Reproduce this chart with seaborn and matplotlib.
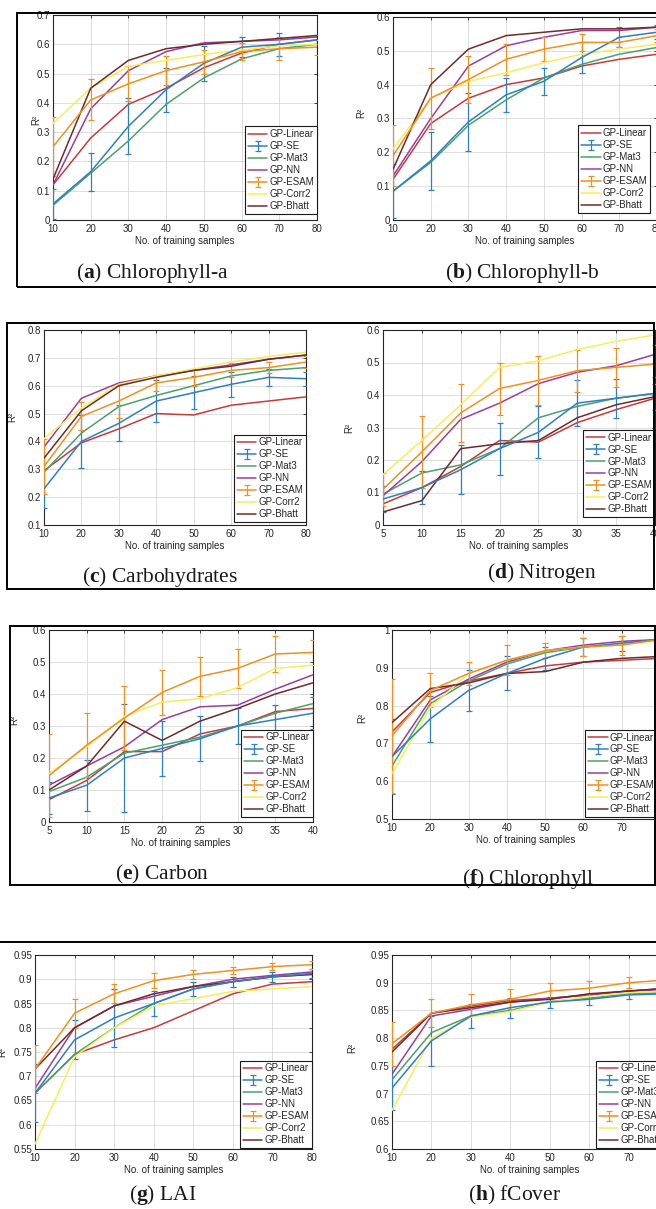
import numpy as np
import pandas as pd
import matplotlib
matplotlib.use("Agg")
import matplotlib.pyplot as plt
from matplotlib.patches import Rectangle
from matplotlib.ticker import FuncFormatter
import seaborn as sns

sns.set_theme(style="white")
plt.rcParams["font.family"] = ["Liberation Sans", "DejaVu Sans"]
plt.rcParams["mathtext.fontset"] = "custom"
plt.rcParams["mathtext.rm"] = "Liberation Serif"
plt.rcParams["mathtext.bf"] = "Liberation Serif:bold"

MODELS = ["GP-Linear", "GP-SE", "GP-Mat3", "GP-NN", "GP-ESAM", "GP-Corr2", "GP-Bhatt"]
COLORS = ["#C83A3A", "#2F7FC1", "#4BA16B", "#9A3E9E", "#F0901E", "#F5EE5A", "#6E2B2B"]

N80 = [10, 20, 30, 40, 50, 60, 70, 80]
N40 = [5, 10, 15, 20, 25, 30, 35, 40]

# (a) Chlorophyll-a
chla_r2 = {
    "GP-Linear": [0.12, 0.28, 0.395, 0.45, 0.52, 0.57, 0.60, 0.615],
    "GP-SE":     [0.055, 0.165, 0.32, 0.445, 0.535, 0.59, 0.60, 0.615],
    "GP-Mat3":   [0.05, 0.16, 0.27, 0.395, 0.485, 0.55, 0.585, 0.60],
    "GP-NN":     [0.12, 0.38, 0.51, 0.575, 0.605, 0.61, 0.615, 0.625],
    "GP-ESAM":   [0.25, 0.41, 0.465, 0.51, 0.54, 0.575, 0.585, 0.59],
    "GP-Corr2":  [0.33, 0.45, 0.525, 0.545, 0.565, 0.58, 0.595, 0.60],
    "GP-Bhatt":  [0.14, 0.45, 0.545, 0.585, 0.60, 0.61, 0.62, 0.63],
}
chla_err = {
    "GP-SE":   [0.05, 0.065, 0.095, 0.075, 0.06, 0.035, 0.04, 0.015],
    "GP-ESAM": [0.10, 0.07, 0.06, 0.05, 0.04, 0.03, 0.04, 0.025],
}

# (b) Chlorophyll-b
chlb_r2 = {
    "GP-Linear": [0.12, 0.285, 0.36, 0.40, 0.42, 0.455, 0.475, 0.49],
    "GP-SE":     [0.085, 0.175, 0.29, 0.37, 0.41, 0.48, 0.54, 0.555],
    "GP-Mat3":   [0.085, 0.17, 0.28, 0.355, 0.42, 0.46, 0.49, 0.51],
    "GP-NN":     [0.13, 0.30, 0.455, 0.515, 0.54, 0.56, 0.56, 0.57],
    "GP-ESAM":   [0.19, 0.36, 0.415, 0.475, 0.505, 0.525, 0.525, 0.545],
    "GP-Corr2":  [0.21, 0.36, 0.41, 0.435, 0.465, 0.49, 0.505, 0.52],
    "GP-Bhatt":  [0.15, 0.40, 0.505, 0.545, 0.555, 0.565, 0.565, 0.57],
}
chlb_err = {
    "GP-SE":   [0.08, 0.085, 0.085, 0.05, 0.04, 0.045, 0.03, 0.02],
    "GP-ESAM": [0.09, 0.09, 0.07, 0.045, 0.035, 0.025, 0.015, 0.02],
}

# (c) Carbohydrates
carb_r2 = {
    "GP-Linear": [0.295, 0.395, 0.445, 0.50, 0.495, 0.53, 0.545, 0.56],
    "GP-SE":     [0.23, 0.40, 0.465, 0.545, 0.575, 0.605, 0.63, 0.625],
    "GP-Mat3":   [0.29, 0.43, 0.525, 0.565, 0.60, 0.635, 0.655, 0.665],
    "GP-NN":     [0.38, 0.555, 0.61, 0.635, 0.655, 0.675, 0.695, 0.71],
    "GP-ESAM":   [0.31, 0.49, 0.545, 0.61, 0.63, 0.655, 0.665, 0.685],
    "GP-Corr2":  [0.41, 0.52, 0.605, 0.635, 0.66, 0.685, 0.705, 0.72],
    "GP-Bhatt":  [0.34, 0.51, 0.60, 0.63, 0.655, 0.67, 0.695, 0.71],
}
carb_err = {
    "GP-SE":   [0.07, 0.095, 0.065, 0.075, 0.06, 0.045, 0.03, 0.025],
    "GP-ESAM": [0.10, 0.05, 0.06, 0.03, 0.03, 0.025, 0.02, 0.02],
}

# (d) Nitrogen
nitro_r2 = {
    "GP-Linear": [0.065, 0.115, 0.18, 0.26, 0.255, 0.315, 0.355, 0.39],
    "GP-SE":     [0.08, 0.115, 0.17, 0.235, 0.285, 0.375, 0.39, 0.405],
    "GP-Mat3":   [0.095, 0.16, 0.185, 0.235, 0.33, 0.365, 0.39, 0.405],
    "GP-NN":     [0.09, 0.195, 0.325, 0.375, 0.435, 0.47, 0.49, 0.525],
    "GP-ESAM":   [0.11, 0.225, 0.345, 0.42, 0.445, 0.475, 0.485, 0.495],
    "GP-Corr2":  [0.155, 0.26, 0.37, 0.485, 0.505, 0.54, 0.565, 0.585],
    "GP-Bhatt":  [0.04, 0.075, 0.235, 0.25, 0.26, 0.33, 0.37, 0.395],
}
nitro_err = {
    "GP-SE":   [0.04, 0.05, 0.075, 0.08, 0.08, 0.07, 0.06, 0.05],
    "GP-ESAM": [0.05, 0.11, 0.09, 0.08, 0.075, 0.065, 0.06, 0.06],
}

# (e) Carbon
carbon_r2 = {
    "GP-Linear": [0.07, 0.13, 0.22, 0.22, 0.275, 0.30, 0.345, 0.355],
    "GP-SE":     [0.075, 0.115, 0.20, 0.23, 0.26, 0.30, 0.32, 0.34],
    "GP-Mat3":   [0.095, 0.14, 0.215, 0.24, 0.265, 0.30, 0.34, 0.37],
    "GP-NN":     [0.115, 0.175, 0.235, 0.32, 0.36, 0.365, 0.415, 0.46],
    "GP-ESAM":   [0.145, 0.24, 0.325, 0.405, 0.455, 0.48, 0.525, 0.53],
    "GP-Corr2":  [0.15, 0.235, 0.33, 0.375, 0.385, 0.42, 0.48, 0.49],
    "GP-Bhatt":  [0.10, 0.175, 0.315, 0.255, 0.315, 0.355, 0.40, 0.435],
}
carbon_err = {
    "GP-SE":   [0.05, 0.08, 0.17, 0.085, 0.07, 0.055, 0.045, 0.05],
    "GP-ESAM": [0.13, 0.10, 0.10, 0.07, 0.06, 0.06, 0.055, 0.04],
}

# (f) Chlorophyll
chl_r2 = {
    "GP-Linear": [0.73, 0.835, 0.865, 0.885, 0.905, 0.915, 0.92, 0.925],
    "GP-SE":     [0.665, 0.765, 0.84, 0.885, 0.925, 0.955, 0.965, 0.975],
    "GP-Mat3":   [0.64, 0.805, 0.865, 0.91, 0.94, 0.955, 0.965, 0.975],
    "GP-NN":     [0.665, 0.815, 0.87, 0.915, 0.945, 0.96, 0.97, 0.975],
    "GP-ESAM":   [0.72, 0.84, 0.885, 0.92, 0.945, 0.955, 0.96, 0.975],
    "GP-Corr2":  [0.62, 0.795, 0.885, 0.92, 0.945, 0.955, 0.965, 0.97],
    "GP-Bhatt":  [0.755, 0.845, 0.86, 0.885, 0.89, 0.915, 0.925, 0.93],
}
chl_err = {
    "GP-SE":   [0.10, 0.06, 0.055, 0.045, 0.03, 0.025, 0.02, 0.015],
    "GP-ESAM": [0.15, 0.045, 0.03, 0.04, 0.02, 0.025, 0.025, 0.02],
}

# (g) LAI
lai_r2 = {
    "GP-Linear": [0.665, 0.745, 0.775, 0.80, 0.835, 0.87, 0.89, 0.895],
    "GP-SE":     [0.665, 0.775, 0.82, 0.85, 0.88, 0.895, 0.905, 0.912],
    "GP-Mat3":   [0.665, 0.745, 0.80, 0.85, 0.88, 0.895, 0.905, 0.91],
    "GP-NN":     [0.675, 0.80, 0.845, 0.865, 0.885, 0.90, 0.908, 0.915],
    "GP-ESAM":   [0.715, 0.83, 0.87, 0.897, 0.91, 0.918, 0.926, 0.93],
    "GP-Corr2":  [0.56, 0.74, 0.80, 0.845, 0.86, 0.875, 0.88, 0.885],
    "GP-Bhatt":  [0.715, 0.80, 0.845, 0.87, 0.885, 0.895, 0.905, 0.91],
}
lai_err = {
    "GP-SE":   [0.06, 0.04, 0.06, 0.025, 0.015, 0.01, 0.01, 0.01],
    "GP-ESAM": [0.05, 0.03, 0.02, 0.015, 0.01, 0.008, 0.007, 0.008],
}

# (h) fCover
fcover_r2 = {
    "GP-Linear": [0.78, 0.845, 0.858, 0.868, 0.872, 0.878, 0.885, 0.89],
    "GP-SE":     [0.71, 0.795, 0.84, 0.855, 0.865, 0.87, 0.878, 0.88],
    "GP-Mat3":   [0.725, 0.81, 0.84, 0.85, 0.866, 0.872, 0.88, 0.882],
    "GP-NN":     [0.735, 0.84, 0.852, 0.865, 0.872, 0.878, 0.885, 0.888],
    "GP-ESAM":   [0.79, 0.845, 0.86, 0.87, 0.885, 0.89, 0.90, 0.905],
    "GP-Corr2":  [0.67, 0.80, 0.838, 0.848, 0.865, 0.875, 0.882, 0.885],
    "GP-Bhatt":  [0.775, 0.845, 0.855, 0.865, 0.87, 0.88, 0.885, 0.89],
}
fcover_err = {
    "GP-SE":   [0.04, 0.045, 0.022, 0.018, 0.01, 0.01, 0.008, 0.008],
    "GP-ESAM": [0.04, 0.025, 0.02, 0.018, 0.015, 0.013, 0.01, 0.01],
}

W, H = 656, 1209
fig = plt.figure(figsize=(W / 100, H / 100), dpi=100)
fig.patch.set_facecolor("white")


def frame(x0, x1, y0, y1):
    fig.add_artist(Rectangle((x0 / W, 1 - y1 / H), (x1 - x0) / W, (y1 - y0) / H,
                             transform=fig.transFigure, fill=False,
                             ec="black", lw=1.4, zorder=10))


def caption(x, y, letter, name):
    fig.text(x / W, 1 - y / H, r"($\mathbf{%s}$) %s" % (letter, name),
             ha="center", va="center", fontsize=15.5, family="Liberation Serif",
             color="#1a1a1a")


def panel(box, x, r2, err, ylim, ystep, leg_anchor, ylab_px):
    left, right, top, bottom = box
    ax = fig.add_axes([left / W, 1 - bottom / H, (right - left) / W, (bottom - top) / H])
    handles = []
    for m, c in zip(MODELS, COLORS):
        if m in err:
            cont = ax.errorbar(x, r2[m], yerr=err[m], color=c, lw=1.1,
                               elinewidth=0.9, capsize=2.2, capthick=0.9, zorder=3)
            handles.append(cont)
        else:
            df = pd.DataFrame({"n": x, "r2": r2[m]})
            sns.lineplot(data=df, x="n", y="r2", color=c, lw=1.1, ax=ax, zorder=3)
            handles.append(ax.lines[-1])
    ax.set_xlim(x[0], x[-1])
    ax.set_ylim(*ylim)
    ax.set_xticks(x)
    ax.set_yticks(np.round(np.arange(ylim[0], ylim[1] + 1e-9, ystep), 3))
    ax.yaxis.set_major_formatter(FuncFormatter(lambda v, p: f"{v:g}"))
    ax.grid(True, color="#d8d8d8", lw=0.6)
    ax.set_axisbelow(True)
    for s in ax.spines.values():
        s.set_color("#262626")
        s.set_linewidth(0.8)
    ax.tick_params(direction="in", length=2.5, width=0.6, top=True, right=True,
                   labelsize=7, pad=2, colors="#262626")
    ax.tick_params(axis="x", pad=3)
    ax.set_xlabel("No. of training samples", fontsize=7, labelpad=1.0, color="#262626")
    ax.set_ylabel("R²", fontsize=7, color="#262626")
    dx, ly = ylab_px
    ax.yaxis.set_label_coords(dx / (right - left), (bottom - ly) / (bottom - top))
    leg = ax.legend(handles, MODELS, loc="lower right", bbox_to_anchor=leg_anchor,
                    borderaxespad=0, fontsize=7, handlelength=2.0,
                    handletextpad=0.2, labelspacing=0.2, borderpad=0.3,
                    frameon=True, fancybox=False, framealpha=1)
    leg.get_frame().set_edgecolor("#1a1a1a")
    leg.get_frame().set_linewidth(0.8)
    for t in leg.get_texts():
        t.set_color("#262626")
    return ax


# boxes around each row of panels
frame(17, 720, 13, 287)
frame(7, 654, 323, 589)
frame(10, 655, 626, 885)
frame(-10, 720, 942, 1300)

panel((53, 317, 15, 220), N80, chla_r2, chla_err, (0, 0.7), 0.1, (1.0, 0.03), (-12, 120))
panel((393, 657, 17, 220), N80, chlb_r2, chlb_err, (0, 0.6), 0.1, (0.975, 0.035), (-27, 113))
panel((44, 306, 330, 525), N80, carb_r2, carb_err, (0.1, 0.8), 0.1, (1.0, 0.015), (-27, 417))
panel((383, 655, 330, 525), N40, nitro_r2, nitro_err, (0, 0.6), 0.1, (1.0, 0.04), (-29, 428))
panel((49, 313, 630, 822), N40, carbon_r2, carbon_err, (0, 0.6), 0.1, (1.0, 0.026), (-30, 720))
panel((392, 660, 630, 819), N80, chl_r2, chl_err, (0.5, 1.0), 0.1, (0.99, 0.01), (-25, 718))
panel((35, 312, 955, 1149), N80, lai_r2, lai_err, (0.55, 0.95), 0.05, (1.0, 0.005), (-28, 1052))
panel((392, 668, 955, 1149), N80, fcover_r2, fcover_err, (0.6, 0.95), 0.05, (1.0, 0.005), (-35, 1048))

caption(152, 273, "a", "Chlorophyll-a")
caption(522, 273, "b", "Chlorophyll-b")
caption(160, 577, "c", "Carbohydrates")
caption(542, 573, "d", "Nitrogen")
caption(162, 874, "e", "Carbon")
caption(528, 879, "f", "Chlorophyll")
caption(163, 1195, "g", "LAI")
caption(515, 1195, "h", "fCover")

fig.savefig("out.png", dpi=100, facecolor="white")
